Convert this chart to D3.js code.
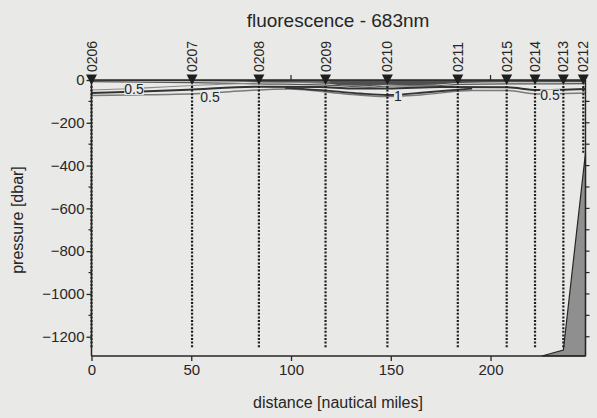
<!DOCTYPE html>
<html>
<head>
<meta charset="utf-8">
<script src="https://cdn.jsdelivr.net/npm/d3@7"></script>
<style>
  html, body { margin: 0; padding: 0; background: #e9e9e7; }
  svg { display: block; }
  text { font-family: "Liberation Sans", Arial, Helvetica, sans-serif; fill: #262626; }
</style>
</head>
<body>
<svg id="chart" width="597" height="418"></svg>
<script>
// ---- data ----
const stations      = ["0206","0207","0208","0209","0210","0211","0215","0214","0213","0212"];
const stationDist   = [0, 50.4, 83.9, 117.3, 148.3, 183.6, 208.1, 222.3, 236.5, 246.5];
const stationBottom = [-1255, -1255, -1255, -1255, -1255, -1255, -1255, -1255, -1250, -340];
const xTicks = [0, 50, 100, 150, 200];
const yTicks = [0, -200, -400, -600, -800, -1000, -1200];
const yMinor = [-100, -300, -500, -700, -900, -1100];
const rightTicks = [-100, -200, -300, -400, -500, -600, -700, -800, -900, -1000, -1100, -1200];
const topTicks = [0, 100, 200];

// bottom topography [distance, pressure]
const bottomShape = [[225.7, -1290], [236.5, -1262], [247.6, -340], [247.6, -1290]];

// near-surface dark band lower edge [distance, pressure]
const bandEdge = [[0,-4],[50.4,-6],[83.9,-10],[117.9,-18],[127.1,-26],[139.6,-28],[148.6,-22],
                  [159.6,-24],[172.2,-22],[184.7,-14],[208.3,-10],[223.3,-10],[247.6,-10]];
// secondary thin line just below the band [distance, pressure]
const bandLine = [[0,-8],[50.4,-12],[83.9,-18],[117.9,-24],[139.6,-33],[148.6,-28],
                  [172.2,-27],[184.7,-20],[208.3,-18],[223.3,-18],[247.6,-17]];
// contour lines [distance, pressure]
const contourA = [[0,-47],[14.8,-42],[27.3,-37],[48.4,-27],[82.0,-14],[119.5,-9]];           // 0.5 (thin)
const contourB = [[0,-61],[28.3,-53],[48.4,-45],[82.0,-31],[114.5,-33],[130.6,-40],[148.6,-40],
                  [174.7,-33],[208.3,-34],[223.3,-47],[247.6,-42]];                            // 0.5 (dark)
const contourC = [[0,-72],[19.3,-70],[54.4,-63],[65.4,-57],[98.5,-42],[130.6,-68],[147.1,-77],
                  [164.7,-70],[190.8,-49],[208.3,-49],[223.3,-65],[247.6,-61]];                // 0.5
const contourD = [[97.0,-37],[119.5,-51],[134.6,-63],[148.6,-70],[169.7,-56],[190.8,-40]];     // 1
const contourLabels = [
  {d: 21.3, p: -42, t: "0.5"},
  {d: 59.4, p: -79, t: "0.5"},
  {d: 153.6, p: -75, t: "1"},
  {d: 229.8, p: -72, t: "0.5"}
];

// ---- scales ----
const svg = d3.select("#chart");
const x = d3.scaleLinear().domain([0, 247.6]).range([91.5, 585.5]);
const y = d3.scaleLinear().domain([0, -1290]).range([80, 356]);
const ink = "#262626";

// title
svg.append("text").attr("x", 338).attr("y", 27).attr("text-anchor", "middle")
  .attr("font-size", 19).text("fluorescence - 683nm");

// bottom topography
svg.append("path")
  .attr("d", d3.line().x(d => x(d[0])).y(d => y(d[1]))(bottomShape) + "Z")
  .attr("fill", "#8f8f8f").attr("stroke", ink).attr("stroke-width", 1.2);

// dark surface band
const bandPoly = [[0,0]].concat(bandEdge).concat([[247.6,0]]);
const line = d3.line().x(d => x(d[0])).y(d => y(d[1])).curve(d3.curveMonotoneX);
svg.append("path")
  .attr("d", line(bandPoly) + "Z")
  .attr("fill", "#505050").attr("stroke", "none");
svg.append("path").attr("d", line(bandLine)).attr("fill", "none").attr("stroke", "#555").attr("stroke-width", 1.2);

svg.append("path").attr("d", line(contourA)).attr("fill", "none").attr("stroke", "#8a8a8a").attr("stroke-width", 1.1);
svg.append("path").attr("d", line(contourC)).attr("fill", "none").attr("stroke", "#7a7a7a").attr("stroke-width", 1.5);
svg.append("path").attr("d", line(contourB)).attr("fill", "none").attr("stroke", "#333").attr("stroke-width", 2);
svg.append("path").attr("d", line(contourD)).attr("fill", "none").attr("stroke", "#333").attr("stroke-width", 1.8);

// station dotted lines
stations.forEach((s, i) => {
  svg.append("line")
    .attr("x1", x(stationDist[i])).attr("x2", x(stationDist[i]))
    .attr("y1", y(-28)).attr("y2", y(stationBottom[i]))
    .attr("stroke", "#1e1e1e").attr("stroke-width", 2.2).attr("stroke-dasharray", "2,1.6");
});

// contour labels
contourLabels.forEach(c => {
  const t = svg.append("text").attr("x", x(c.d)).attr("y", y(c.p)).attr("dy", "0.35em")
    .attr("text-anchor", "middle").attr("font-size", 14).text(c.t);
  const bb = t.node().getBBox();
  svg.insert("rect", () => t.node()).attr("x", bb.x).attr("y", bb.y + 2).attr("width", bb.width).attr("height", bb.height - 4)
    .attr("fill", "#e9e9e7");
});

// frame
svg.append("line").attr("x1", x(0)).attr("x2", x(247.6)).attr("y1", y(0)).attr("y2", y(0)).attr("stroke", ink).attr("stroke-width", 1.6);
svg.append("line").attr("x1", x(247.6)).attr("x2", x(247.6)).attr("y1", y(0)).attr("y2", y(-1290)).attr("stroke", ink).attr("stroke-width", 1.4);

// axes
const gx = svg.append("g").attr("transform", `translate(0,${y(-1290)})`)
  .call(d3.axisBottom(x).tickValues(xTicks).tickSize(5).tickPadding(3).tickFormat(d3.format("d")));
gx.select(".domain").attr("d", `M${x(0)},0H${x(247.6)}`);
const gy = svg.append("g").attr("transform", `translate(${x(0)},0)`)
  .call(d3.axisLeft(y).tickValues(yTicks).tickSize(5).tickPadding(2).tickFormat(d3.format("d")));
gy.select(".domain").attr("d", `M0,${y(0)}V${y(-1290)}`);
[gx, gy].forEach(g => {
  g.select(".domain").attr("stroke", ink).attr("stroke-width", 1.5);
  g.selectAll(".tick line").attr("stroke", ink).attr("stroke-width", 1.3);
  g.selectAll(".tick text").attr("font-size", 15).attr("fill", ink)
    .attr("font-family", '"Liberation Sans", Arial, sans-serif');
});
svg.append("g").selectAll("line").data(yMinor).join("line")
  .attr("x1", x(0) - 3).attr("x2", x(0)).attr("y1", d => y(d)).attr("y2", d => y(d))
  .attr("stroke", ink).attr("stroke-width", 1.2);
svg.append("g").selectAll("line").data(rightTicks).join("line")
  .attr("x1", x(247.6)).attr("x2", x(247.6) + 4).attr("y1", d => y(d)).attr("y2", d => y(d))
  .attr("stroke", ink).attr("stroke-width", 1.2);
svg.append("g").selectAll("line").data(topTicks).join("line")
  .attr("x1", d => x(d)).attr("x2", d => x(d)).attr("y1", y(0)).attr("y2", y(0) - 5)
  .attr("stroke", ink).attr("stroke-width", 1.2);

// station markers and labels
stations.forEach((s, i) => {
  const sx = x(stationDist[i]);
  svg.append("path").attr("d", `M${sx - 5.5},74.5L${sx + 5.5},74.5L${sx},85Z`).attr("fill", "#1e1e1e");
  svg.append("text").attr("transform", `translate(${sx},72) rotate(-90)`)
    .attr("dy", "0.36em").attr("font-size", 14).text(s);
});

// axis titles
svg.append("text").attr("x", 338).attr("y", 408).attr("text-anchor", "middle")
  .attr("font-size", 16).text("distance [nautical miles]");
svg.append("text").attr("transform", "translate(23,220) rotate(-90)").attr("text-anchor", "middle")
  .attr("font-size", 16).text("pressure [dbar]");
</script>
</body>
</html>
